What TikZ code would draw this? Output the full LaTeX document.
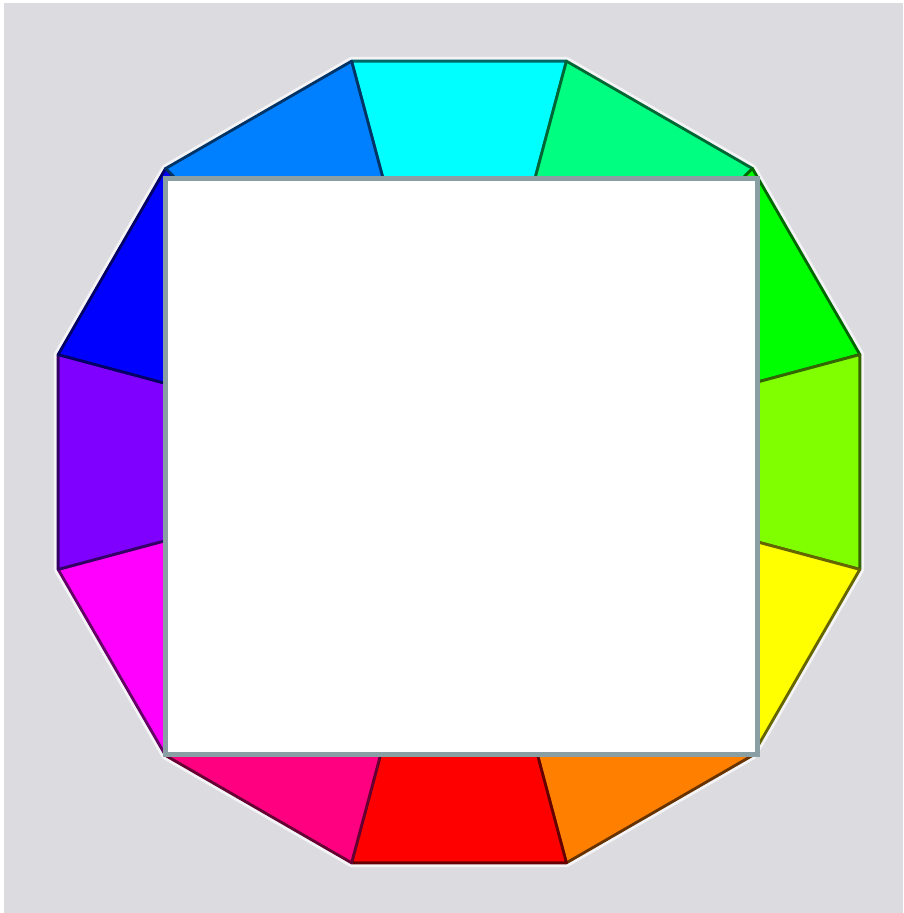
\documentclass[tikz,border=0pt]{standalone}
\usetikzlibrary{calc}

\definecolor{bggray}{HTML}{DCDCE0}
\definecolor{framegray}{HTML}{8A9FA3}

\begin{document}
\begin{tikzpicture}[
  x=0.01cm, y=0.01cm,
  wedge/.style={line width=0.8pt, line join=round},
  halo/.style={draw=white!70!bggray, line width=2.4pt, line join=round},
  framebox/.style={draw=framegray, fill=white, line width=1.42pt, inner sep=0pt, outer sep=0pt,
    minimum width=5.92cm, minimum height=5.76cm}
]
\useasboundingbox (0,0) rectangle (904,913);
\fill[white] (0,0) rectangle (904,913);
\fill[bggray] (4,0) rectangle (903,910);

\coordinate (c) at (459,451);

% soft rim round the wheel
\draw[halo] ($(c)+(15:415)$) \foreach \a in {45,75,...,345} { -- ($(c)+(\a:415)$) } -- cycle;

% the twelve hue wedges
\foreach \a/\hx in {90/00FFFF, 60/00FF80, 30/00FF00, 0/80FF00, -30/FFFF00, -60/FF8000,
                    -90/FF0000, -120/FF0080, -150/FF00FF, 180/8000FF, 150/0000FF, 120/0080FF}{
  \definecolor{wc}{HTML}{\hx}
  \filldraw[wedge, fill=wc, draw=wc!40!black] (c) -- ($(c)+(\a-15:415)$) -- ($(c)+(\a+15:415)$) -- cycle;
}

% white panel on top
\node[framebox] (frame) at (461.5,446.5) {};
\end{tikzpicture}
\end{document}
